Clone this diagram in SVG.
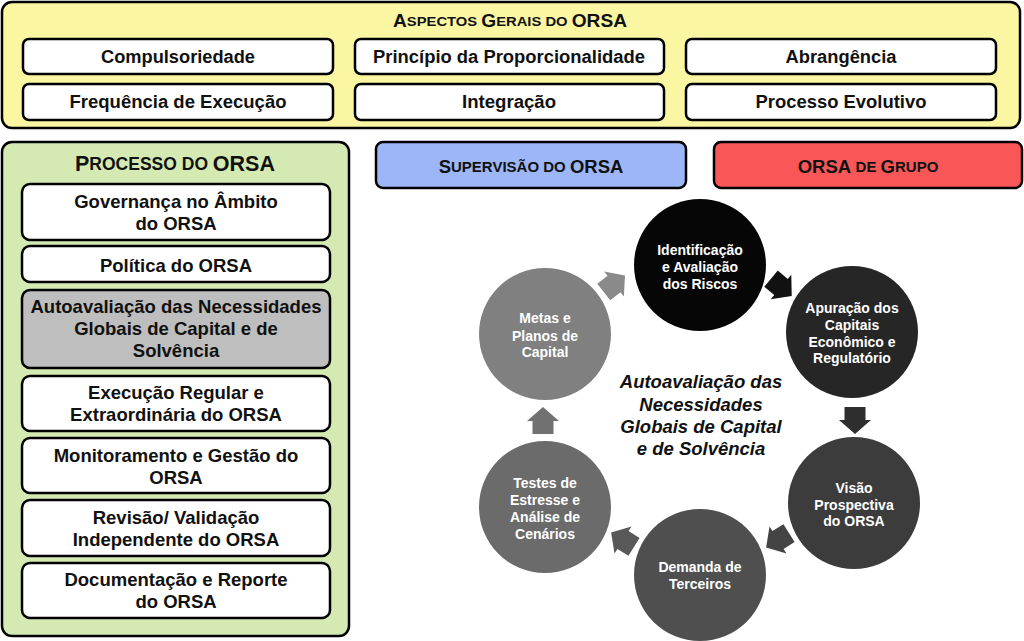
<svg xmlns="http://www.w3.org/2000/svg" width="1024" height="641" viewBox="0 0 1024 641">
<defs>
<style>
.panel{stroke:#000;stroke-width:2.5}
.box{fill:#fff;stroke:#000;stroke-width:2.5}
.t{font-family:"Liberation Sans",Arial,sans-serif;font-weight:bold;fill:#111;text-anchor:middle;dominant-baseline:central}
.tb{font-size:17.5px}
.tl{font-size:18.5px}
.tc{font-family:"Liberation Sans",Arial,sans-serif;font-weight:bold;fill:#fff;text-anchor:middle;dominant-baseline:central;font-size:14px}
.ti{font-family:"Liberation Sans",Arial,sans-serif;font-weight:bold;font-style:italic;fill:#111;text-anchor:middle;dominant-baseline:central;font-size:18.5px}
</style>
<path id="arr" d="M-13,-10.5 H0 V-16 L14,0 L0,16 V10.5 H-13 Z"/>
</defs>
<rect width="1024" height="641" fill="#fff"/>

<g id="aspectos">
<rect class="panel" x="2" y="2" width="1018" height="126" rx="10" fill="#FAF6A2"/>
<text class="t" x="510" y="21" font-size="17.5" textLength="234" lengthAdjust="spacingAndGlyphs">A<tspan font-size="13.5">SPECTOS </tspan>G<tspan font-size="13.5">ERAIS DO </tspan>ORSA</text>
</g>
<g id="compulsoriedade"><rect class="box" x="23" y="39" width="310" height="35" rx="6"/><text class="t tb" x="178" y="57" textLength="154" lengthAdjust="spacingAndGlyphs">Compulsoriedade</text></g>
<g id="proporcionalidade"><rect class="box" x="355" y="39" width="309" height="35" rx="6"/><text class="t tb" x="509" y="57" textLength="272" lengthAdjust="spacingAndGlyphs">Princípio da Proporcionalidade</text></g>
<g id="abrangencia"><rect class="box" x="686" y="39" width="310" height="35" rx="6"/><text class="t tb" x="841" y="57" textLength="111" lengthAdjust="spacingAndGlyphs">Abrangência</text></g>
<g id="frequencia"><rect class="box" x="23" y="84" width="310" height="36" rx="6"/><text class="t tb" x="178" y="102" textLength="217" lengthAdjust="spacingAndGlyphs">Frequência de Execução</text></g>
<g id="integracao"><rect class="box" x="355" y="84" width="309" height="36" rx="6"/><text class="t tb" x="509" y="102" textLength="94" lengthAdjust="spacingAndGlyphs">Integração</text></g>
<g id="evolutivo"><rect class="box" x="686" y="84" width="310" height="36" rx="6"/><text class="t tb" x="841" y="102" textLength="171" lengthAdjust="spacingAndGlyphs">Processo Evolutivo</text></g>

<g id="processo">
<rect class="panel" x="2" y="142" width="347" height="494" rx="10" fill="#D5EAB3"/>
<text class="t" x="175" y="164" font-size="21.5">P<tspan font-size="17.5">ROCESSO DO </tspan>ORSA</text>
</g>
<g id="governanca"><rect class="box" x="22" y="184" width="308" height="56" rx="8"/><text class="t tl" x="176" y="201">Governança no Âmbito</text><text class="t tl" x="176" y="223">do ORSA</text></g>
<g id="politica"><rect class="box" x="22" y="246" width="308" height="36" rx="8"/><text class="t tl" x="176" y="265">Política do ORSA</text></g>
<g id="autoavaliacao"><rect class="box" x="22" y="290" width="308" height="78" rx="8" style="fill:#BEBEBE"/><text class="t tl" x="176" y="306">Autoavaliação das Necessidades</text><text class="t tl" x="176" y="328">Globais de Capital e de</text><text class="t tl" x="176" y="350">Solvência</text></g>
<g id="execucao"><rect class="box" x="22" y="376" width="308" height="55" rx="8"/><text class="t tl" x="176" y="392">Execução Regular e</text><text class="t tl" x="176" y="414">Extraordinária do ORSA</text></g>
<g id="monitoramento"><rect class="box" x="22" y="438" width="308" height="55" rx="8"/><text class="t tl" x="176" y="455">Monitoramento e Gestão do</text><text class="t tl" x="176" y="477">ORSA</text></g>
<g id="revisao"><rect class="box" x="22" y="500" width="308" height="56" rx="8"/><text class="t tl" x="176" y="517">Revisão/ Validação</text><text class="t tl" x="176" y="539">Independente do ORSA</text></g>
<g id="documentacao"><rect class="box" x="22" y="563" width="308" height="55" rx="8"/><text class="t tl" x="176" y="579">Documentação e Reporte</text><text class="t tl" x="176" y="601">do ORSA</text></g>

<g id="supervisao"><rect class="panel" x="376" y="142" width="310" height="46" rx="7" fill="#9DB6F7"/><text class="t" x="531" y="166" font-size="18.5">S<tspan font-size="15">UPERVISÃO DO </tspan>ORSA</text></g>
<g id="grupo"><rect class="panel" x="714" y="142" width="308" height="46" rx="7" fill="#F95757"/><text class="t" x="868" y="166" font-size="18.5">ORSA <tspan font-size="15">DE </tspan>G<tspan font-size="15">RUPO</tspan></text></g>

<g id="connectors">
<use href="#arr" fill="#8A8A8A" transform="translate(614,284) rotate(-38)"/>
<use href="#arr" fill="#111" transform="translate(781,287) rotate(40)"/>
<use href="#arr" fill="#2e2e2e" transform="translate(855,420) rotate(90)"/>
<use href="#arr" fill="#444" transform="translate(778,540) rotate(148)"/>
<use href="#arr" fill="#595959" transform="translate(623,540) rotate(212)"/>
<use href="#arr" fill="#717171" transform="translate(543,421) rotate(-90)"/>
</g>

<g id="identificacao"><circle cx="700" cy="265" r="66" fill="#060606"/><text class="tc" x="700" y="250">Identificação</text><text class="tc" x="700" y="267">e Avaliação</text><text class="tc" x="700" y="284">dos Riscos</text></g>
<g id="apuracao"><circle cx="852" cy="332" r="66" fill="#262626"/><text class="tc" x="852" y="308">Apuração dos</text><text class="tc" x="852" y="325">Capitais</text><text class="tc" x="852" y="342">Econômico e</text><text class="tc" x="852" y="358">Regulatório</text></g>
<g id="visao"><circle cx="854" cy="503" r="66" fill="#3C3C3C"/><text class="tc" x="854" y="488">Visão</text><text class="tc" x="854" y="505">Prospectiva</text><text class="tc" x="854" y="521">do ORSA</text></g>
<g id="demanda"><circle cx="700" cy="575" r="66" fill="#4F4F4F"/><text class="tc" x="700" y="567">Demanda de</text><text class="tc" x="700" y="584">Terceiros</text></g>
<g id="testes"><circle cx="545" cy="507" r="66" fill="#6B6B6B"/><text class="tc" x="545" y="483">Testes de</text><text class="tc" x="545" y="500">Estresse e</text><text class="tc" x="545" y="517">Análise de</text><text class="tc" x="545" y="534">Cenários</text></g>
<g id="metas"><circle cx="545" cy="334" r="66" fill="#808080"/><text class="tc" x="545" y="318">Metas e</text><text class="tc" x="545" y="336">Planos de</text><text class="tc" x="545" y="352">Capital</text></g>

<g id="centro"><text class="ti" x="701" y="381">Autoavaliação das</text><text class="ti" x="701" y="404">Necessidades</text><text class="ti" x="701" y="426">Globais de Capital</text><text class="ti" x="701" y="448">e de Solvência</text></g>
</svg>
